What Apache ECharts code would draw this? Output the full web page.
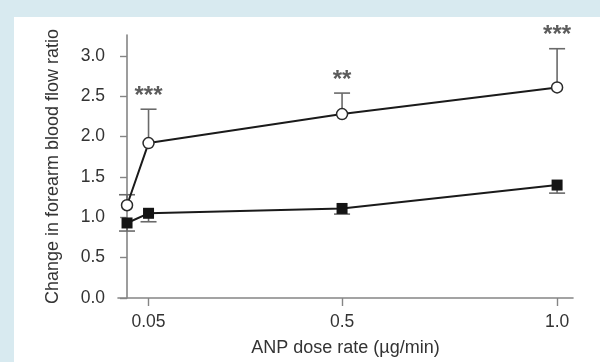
<!DOCTYPE html>
<html>
<head>
<meta charset="utf-8">
<script src="https://cdn.jsdelivr.net/npm/echarts@6/dist/echarts.min.js"></script>
<style>
html,body{margin:0;padding:0;background:#d8eaf0;}
#c{width:600px;height:362px;}
</style>
</head>
<body>
<div id="c"></div>
<script>
// ---- data ----
const doses = [0, 0.05, 0.5, 1.0];
const ratioOpen = [1.15, 1.92, 2.28, 2.61];
const errOpenUpper = [1.28, 2.34, 2.54, 3.09];
const ratioFilled = [0.93, 1.05, 1.11, 1.40];
const errFilledLower = [0.83, 0.945, 1.04, 1.30];
const sigLabels = ['', '***', '**', '***'];
const xTicks = [0.05, 0.5, 1.0];
const xTickLabels = ['0.05', '0.5', '1.0'];
const yTicks = [0, 0.5, 1.0, 1.5, 2.0, 2.5, 3.0];

const FONT = 'Liberation Sans, Arial, sans-serif';
const TXT = '#333333';
const AXIS = '#858585';

const chart = echarts.init(document.getElementById('c'), null, {renderer: 'canvas'});

function errBar(params, api) {
  const x = api.value(0), y = api.value(1), e = api.value(2);
  const p = api.coord([x, y]);
  const q = api.coord([x, e]);
  const st = {stroke: '#6a6a6a', lineWidth: 1.6};
  return {
    type: 'group',
    children: [
      {type: 'line', shape: {x1: p[0], y1: p[1], x2: q[0], y2: q[1]}, style: st},
      {type: 'line', shape: {x1: q[0] - 8, y1: q[1], x2: q[0] + 8, y2: q[1]}, style: st}
    ]
  };
}

const option = {
  backgroundColor: '#d8eaf0',
  animation: false,
  graphic: [{
    type: 'rect', z: -10, silent: true,
    shape: {x: 14, y: 17, width: 600, height: 362},
    style: {fill: '#ffffff'}
  }],
  grid: {left: 118, right: 27, top: 35, bottom: 64},
  xAxis: {
    type: 'value', min: -0.021, max: 1.037,
    name: 'ANP dose rate (µg/min)', nameLocation: 'middle', nameGap: 41,
    nameTextStyle: {fontFamily: FONT, fontSize: 18, color: TXT},
    axisLine: {show: true, lineStyle: {color: AXIS, width: 1.6}},
    axisTick: {show: true, customValues: xTicks, length: 8, lineStyle: {color: AXIS, width: 1.4}},
    axisLabel: {
      customValues: xTicks, margin: 15, fontFamily: FONT, fontSize: 17.5, color: TXT,
      formatter: v => { const i = xTicks.findIndex(t => Math.abs(t - v) < 1e-9); return i >= 0 ? xTickLabels[i] : ''; }
    },
    splitLine: {show: false}
  },
  yAxis: {
    type: 'value', min: 0, max: 3.26,
    name: 'Change in forearm blood flow ratio', nameLocation: 'middle', nameGap: 56, nameRotate: 90,
    nameTextStyle: {fontFamily: FONT, fontSize: 18, color: TXT},
    axisLine: {show: true, lineStyle: {color: AXIS, width: 1.6}},
    axisTick: {show: true, customValues: yTicks, length: 7, lineStyle: {color: AXIS, width: 1.4}},
    axisLabel: {
      customValues: yTicks, margin: 13, fontFamily: FONT, fontSize: 17.5, color: TXT,
      formatter: v => v.toFixed(1)
    },
    splitLine: {show: false}
  },
  series: [
    {
      type: 'custom', renderItem: errBar, z: 1, clip: false,
      data: doses.map((d, i) => [d, ratioOpen[i], errOpenUpper[i]])
    },
    {
      type: 'custom', renderItem: errBar, z: 1, clip: false,
      data: doses.map((d, i) => [d, ratioFilled[i], errFilledLower[i]])
    },
    {
      type: 'line', z: 3,
      data: doses.map((d, i) => [d, ratioOpen[i]]),
      symbol: 'circle', symbolSize: 11, showAllSymbol: true,
      lineStyle: {color: '#1a1a1a', width: 2},
      itemStyle: {color: '#ffffff', borderColor: '#2a2a2a', borderWidth: 1.5}
    },
    {
      type: 'line', z: 3,
      data: doses.map((d, i) => [d, ratioFilled[i]]),
      symbol: 'rect', symbolSize: 11, showAllSymbol: true,
      lineStyle: {color: '#1a1a1a', width: 2},
      itemStyle: {color: '#141414', borderColor: '#141414', borderWidth: 0}
    },
    {
      type: 'scatter', z: 4, symbolSize: 0, silent: true,
      data: doses.map((d, i) => [d, errOpenUpper[i], sigLabels[i]]),
      label: {
        show: true, position: 'top', distance: 1,
        formatter: p => p.value[2],
        fontFamily: FONT, fontSize: 24, fontWeight: 'bold', color: '#333'
      }
    }
  ]
};
chart.setOption(option);
</script>
</body>
</html>
